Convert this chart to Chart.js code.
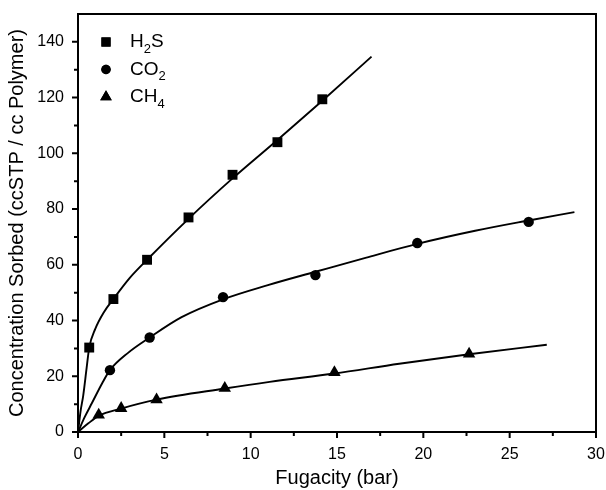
<!DOCTYPE html>
<html>
<head>
<meta charset="utf-8">
<script src="https://cdn.jsdelivr.net/npm/chart.js@4.4.1/dist/chart.umd.min.js"></script>
<style>
  html, body { margin: 0; padding: 0; background: #fff; }
  #wrap { width: 606px; height: 490px; }
</style>
</head>
<body>
<div id="wrap"><canvas id="chart" width="606" height="490"></canvas></div>
<script>
/* ================= DATA ================= */

const seriesNames = ["H2S", "CO2", "CH4"];

// measured points
const h2sX = [0.65, 2.05, 4.0, 6.4, 8.95, 11.55, 14.15];
const h2sY = [30.3, 47.7, 61.8, 77.0, 92.3, 104.0, 119.4];
const co2X = [1.85, 4.15, 8.4, 13.75, 19.65, 26.1];
const co2Y = [22.2, 33.9, 48.4, 56.3, 67.8, 75.4];
const ch4X = [1.2, 2.5, 4.55, 8.5, 14.85, 22.65];
const ch4Y = [6.1, 8.5, 11.6, 15.7, 21.4, 28.0];

// fitted curves
const h2sFitX = [0, 0.15, 0.3, 0.5, 0.65, 1.0, 1.5, 2.05, 3.0, 4.0, 6.4, 8.95, 11.55, 14.15, 17.0];
const h2sFitY = [0, 7.5, 13, 23, 30.3, 37, 43, 47.7, 55.3, 61.8, 76.5, 91.0, 104.8, 118.9, 134.7];
const co2FitX = [0, 0.4, 0.8, 1.4, 1.85, 2.9, 4.15, 6.0, 8.4, 11.0, 13.75, 16.7, 19.65, 23.0, 26.1, 28.75];
const co2FitY = [0, 5.5, 10.3, 17.5, 22.2, 28.4, 33.9, 41.2, 47.6, 52.7, 57.5, 62.6, 67.5, 72.2, 75.9, 78.9];
const ch4FitX = [0, 0.6, 1.2, 2.5, 4.55, 8.5, 11.1, 14.85, 18.6, 22.65, 27.15];
const ch4FitY = [0, 3.1, 5.8, 8.4, 11.6, 15.6, 18.0, 21.0, 24.5, 27.9, 31.3];

// axes
const xMajorTicks = [0, 5, 10, 15, 20, 25, 30];
const xMinorTicks = [2.5, 7.5, 12.5, 17.5, 22.5, 27.5];
const yMajorTicks = [0, 20, 40, 60, 80, 100, 120, 140];
const yMinorTicks = [10, 30, 50, 70, 90, 110, 130];

const markerStyles = ["rect", "circle", "triangle"];
const markerRadius = [7, 5.2, 7.2];

/* ================= HELPERS ================= */

const FONT = "'Liberation Sans', Arial, sans-serif";

function toPoints(xs, ys) {
    return xs.map((x, i) => ({ x, y: ys[i] }));
}

function markerSet(name, xs, ys, idx) {
    return {
        label: name,
        type: "scatter",
        data: toPoints(xs, ys),
        pointStyle: markerStyles[idx],
        pointRadius: markerRadius[idx],
        pointHoverRadius: markerRadius[idx],
        backgroundColor: "#000",
        borderColor: "#000",
        borderWidth: 0,
        showLine: false,
        order: 0,
    };
}

function fitSet(xs, ys) {
    return {
        label: "fit",
        type: "line",
        data: toPoints(xs, ys),
        borderColor: "#000",
        borderWidth: 1.9,
        pointRadius: 0,
        fill: false,
        cubicInterpolationMode: "monotone",
        order: 1,
    };
}

/* ================= PLUGINS ================= */

// frame + outward ticks (major/minor)
const frameTicks = {
    id: "frameTicks",
    afterDraw(chart) {
        const { ctx, chartArea: a, scales } = chart;
        ctx.save();
        ctx.strokeStyle = "#000";
        ctx.lineWidth = 2;
        ctx.strokeRect(a.left, a.top, a.right - a.left, a.bottom - a.top);

        ctx.beginPath();
        xMajorTicks.forEach(v => {
            const px = scales.x.getPixelForValue(v);
            ctx.moveTo(px, a.bottom);
            ctx.lineTo(px, a.bottom + 6);
        });
        xMinorTicks.forEach(v => {
            const px = scales.x.getPixelForValue(v);
            ctx.moveTo(px, a.bottom);
            ctx.lineTo(px, a.bottom + 4);
        });
        yMajorTicks.forEach(v => {
            const py = scales.y.getPixelForValue(v);
            ctx.moveTo(a.left, py);
            ctx.lineTo(a.left - 6, py);
        });
        yMinorTicks.forEach(v => {
            const py = scales.y.getPixelForValue(v);
            ctx.moveTo(a.left, py);
            ctx.lineTo(a.left - 4, py);
        });
        ctx.stroke();
        ctx.restore();
    }
};

// legend with real subscripts
const subLegend = {
    id: "subLegend",
    afterDraw(chart) {
        const { ctx, chartArea: a } = chart;
        const x0 = a.left + 28;
        const y0 = a.top + 28;
        const rowH = 27.5;
        ctx.save();
        ctx.fillStyle = "#000";
        ctx.textBaseline = "middle";
        seriesNames.forEach((name, i) => {
            const y = y0 + i * rowH;
            Chart.helpers.drawPoint(ctx, {
                pointStyle: markerStyles[i],
                radius: markerRadius[i] - 0.5,
                rotation: 0,
                borderWidth: 0,
            }, x0, y);
            ctx.fill();
            let tx = x0 + 24;
            for (const ch of name) {
                if (/[0-9]/.test(ch)) {
                    ctx.font = "13px " + FONT;
                    ctx.fillText(ch, tx, y + 7);
                } else {
                    ctx.font = "19px " + FONT;
                    ctx.fillText(ch, tx, y);
                }
                tx += ctx.measureText(ch).width;
            }
        });
        ctx.restore();
    }
};

/* ================= CHART ================= */

new Chart(document.getElementById("chart"), {
    data: {
        datasets: [
            markerSet(seriesNames[0], h2sX, h2sY, 0),
            markerSet(seriesNames[1], co2X, co2Y, 1),
            markerSet(seriesNames[2], ch4X, ch4Y, 2),
            fitSet(h2sFitX, h2sFitY),
            fitSet(co2FitX, co2FitY),
            fitSet(ch4FitX, ch4FitY),
        ]
    },
    options: {
        responsive: false,
        animation: false,
        events: [],
        layout: { padding: { left: 0, right: 10, top: 14, bottom: 0 } },
        plugins: {
            legend: { display: false },
            tooltip: { enabled: false },
        },
        scales: {
            x: {
                type: "linear",
                min: 0,
                max: 30,
                grid: { display: false },
                border: { display: false },
                afterFit: s => {
                    s.height = 58;
                    s.paddingLeft = 0;
                    s.paddingRight = 0;
                },
                ticks: {
                    stepSize: 5,
                    padding: 5,
                    color: "#000",
                    font: { family: FONT, size: 16 },
                    maxRotation: 0,
                },
                title: {
                    display: true,
                    text: "Fugacity (bar)",
                    color: "#000",
                    font: { family: FONT, size: 20 },
                    padding: { top: 0, bottom: 0 },
                },
            },
            y: {
                type: "linear",
                min: 0,
                max: 150,
                grid: { display: false },
                border: { display: false },
                afterFit: s => {
                    s.width = 78;
                    s.paddingTop = 0;
                    s.paddingBottom = 0;
                },
                ticks: {
                    stepSize: 20,
                    padding: 6,
                    color: "#000",
                    font: { family: FONT, size: 16 },
                    callback: v => (v <= 140 ? v : ""),
                },
                title: {
                    display: true,
                    text: "Concentration Sorbed (ccSTP / cc Polymer)",
                    color: "#000",
                    font: { family: FONT, size: 20 },
                    padding: { top: 5, bottom: 0 },
                },
            },
        },
    },
    plugins: [frameTicks, subLegend],
});
</script>
</body>
</html>
